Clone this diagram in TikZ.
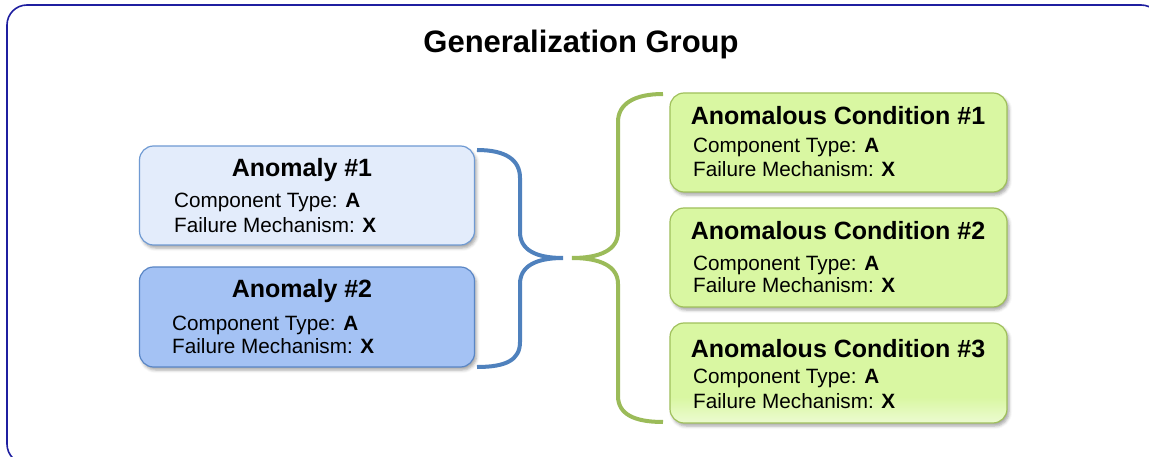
\documentclass[tikz,border=0pt]{standalone}
\usepackage{fontspec}
\setmainfont{Liberation Sans}
\usetikzlibrary{shadows.blur}
\definecolor{frameblue}{HTML}{1F1FA0}
\definecolor{aonefill}{HTML}{E3ECFB}
\definecolor{aoneline}{HTML}{6F9AD3}
\definecolor{atwofill}{HTML}{A4C2F4}
\definecolor{atwoline}{HTML}{5A86C5}
\definecolor{gfill}{HTML}{D9F7A2}
\definecolor{gline}{HTML}{A0C05C}
\definecolor{gfade}{HTML}{F6FDEA}
\definecolor{bracegreen}{HTML}{9BBB59}
\definecolor{braceblue}{HTML}{4F81BD}
\pgfdeclareverticalshading{gfadeshade}{100bp}{color(0bp)=(gfade); color(18bp)=(gfade); color(38bp)=(gfill); color(100bp)=(gfill)}
\tikzset{
  box/.style={rounded corners=14pt, line width=1.2pt, inner sep=0pt,
    blur shadow={shadow xshift=2pt, shadow yshift=-3pt, shadow blur radius=3pt, shadow opacity=35}},
  boxtitle/.style={anchor=base, inner sep=0pt, font=\fontsize{25}{30}\selectfont\bfseries},
  boxline/.style={anchor=base west, inner sep=0pt, font=\fontsize{20.7}{24}\selectfont},
  brace/.style={line width=4pt}
}
\begin{document}
\begin{tikzpicture}[x=1pt,y=-1pt]
\useasboundingbox (0,0) rectangle (1149,457);
\begin{scope}
\clip (0,0) rectangle (1149,457);
\draw[frameblue, line width=1.6pt, rounded corners=20pt] (7,5) rectangle (1161,464);
\end{scope}
\node[anchor=base, inner sep=0pt, font=\fontsize{31}{36}\selectfont\bfseries] (title) at (581,53) {Generalization Group};

% left boxes
\node[box, draw=aoneline, fill=aonefill, minimum width=335pt, minimum height=99pt] (a1) at (307,195.5) {};
\node[box, draw=atwoline, fill=atwofill, minimum width=335pt, minimum height=100pt] (a2) at (307,317) {};
\node[boxtitle] (a1t) at (302,177) {Anomaly \#1};
\node[boxline] (a1c) at (174,208) {Component Type: \textbf{A}};
\node[boxline] (a1f) at (174,233) {Failure Mechanism: \textbf{X}};
\node[boxtitle] (a2t) at (302,298) {Anomaly \#2};
\node[boxline] (a2c) at (172,330) {Component Type: \textbf{A}};
\node[boxline] (a2f) at (172,353) {Failure Mechanism: \textbf{X}};

% right boxes
\node[box, draw=gline, fill=gfill, minimum width=337pt, minimum height=99pt] (c1) at (838.5,142.5) {};
\node[box, draw=gline, fill=gfill, minimum width=337pt, minimum height=99pt] (c2) at (838.5,257.5) {};
\node[box, draw=gline, shade, shading=gfadeshade, minimum width=337pt, minimum height=100pt] (c3) at (838.5,373) {};
\node[boxtitle] (c1t) at (838,125) {Anomalous Condition \#1};
\node[boxline] (c1c) at (693,153) {Component Type: \textbf{A}};
\node[boxline] (c1f) at (693,177) {Failure Mechanism: \textbf{X}};
\node[boxtitle] (c2t) at (838,240) {Anomalous Condition \#2};
\node[boxline] (c2c) at (693,270) {Component Type: \textbf{A}};
\node[boxline] (c2f) at (693,293) {Failure Mechanism: \textbf{X}};
\node[boxtitle] (c3t) at (838,357) {Anomalous Condition \#3};
\node[boxline] (c3c) at (693,383) {Component Type: \textbf{A}};
\node[boxline] (c3f) at (693,408) {Failure Mechanism: \textbf{X}};

% braces
\coordinate (btip) at (563,258);
\coordinate (gtip) at (572,258);
\draw[brace, braceblue] (477,150) .. controls (506,150) and (520,160) .. (520,178) -- (520,232)
  .. controls (520,250) and (536,258) .. (btip)
  .. controls (536,258) and (520,266) .. (520,284) -- (520,342)
  .. controls (520,360) and (506,367) .. (477,367);
\draw[brace, bracegreen] (663,94) .. controls (634,94) and (618,104) .. (618,122) -- (618,232)
  .. controls (618,250) and (600,258) .. (gtip)
  .. controls (600,258) and (618,266) .. (618,284) -- (618,396)
  .. controls (618,414) and (634,422) .. (663,422);
\end{tikzpicture}
\end{document}
